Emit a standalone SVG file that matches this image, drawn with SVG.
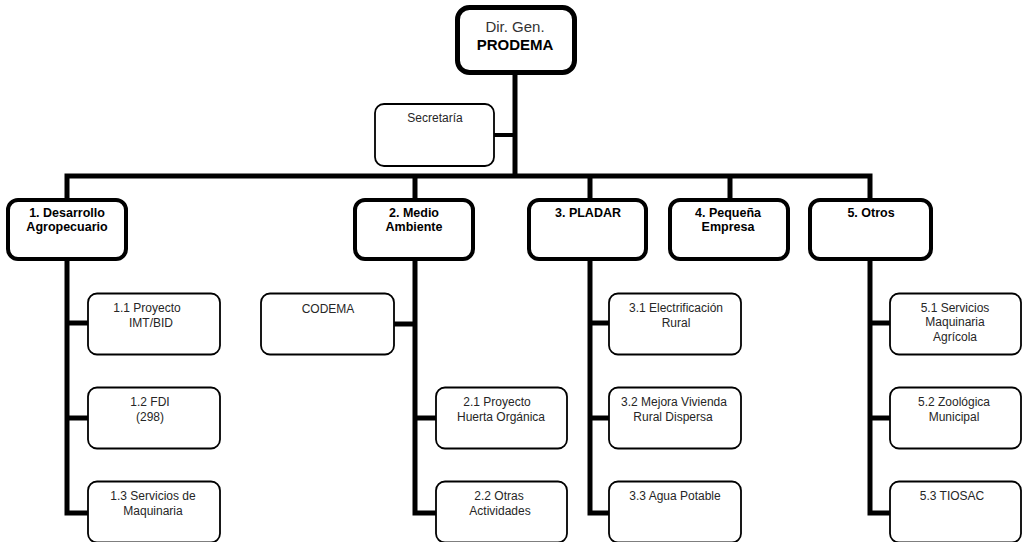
<svg xmlns="http://www.w3.org/2000/svg" width="1028" height="542" viewBox="0 0 1028 542">
<style>
.top{fill:#fff;stroke:#000;stroke-width:5}
.hd{fill:#fff;stroke:#000;stroke-width:4}
.sb{fill:#fff;stroke:#000;stroke-width:1.8}
.ln{fill:none;stroke:#000;stroke-width:5;stroke-linejoin:miter;stroke-linecap:butt}
.ln4{fill:none;stroke:#000;stroke-width:4}
text{font-family:"Liberation Sans",Arial,sans-serif;text-anchor:middle;fill:#262626}
.b{font-weight:bold;font-size:12.5px;fill:#000}
.r{font-size:12px}
.t{font-size:15px;fill:#333}
.tb{font-size:15px;font-weight:bold;fill:#000}
</style>
<rect x="0" y="0" width="1028" height="542" fill="#fff"/>
<g id="connectors">
<path class="ln" d="M515 72 V176"/>
<path class="ln4" d="M492 135 H515"/>
<path class="ln" d="M67 202 V176 H870 V202"/>
<path class="ln" d="M415 176 V202"/>
<path class="ln" d="M590 176 V202"/>
<path class="ln" d="M730 176 V202"/>
<path class="ln" d="M67 258 V513 H90"/>
<path class="ln" d="M67 323 H90"/>
<path class="ln" d="M67 418 H90"/>
<path class="ln" d="M415 258 V513 H438"/>
<path class="ln" d="M415 418 H438"/>
<path class="ln" d="M415 324 H392"/>
<path class="ln" d="M590 258 V513 H611"/>
<path class="ln" d="M590 323 H611"/>
<path class="ln" d="M590 418 H611"/>
<path class="ln" d="M870 258 V513 H892"/>
<path class="ln" d="M870 323 H892"/>
<path class="ln" d="M870 418 H892"/>
</g>
<g id="dir-gen">
<rect class="top" x="457.5" y="7.5" width="117" height="65" rx="12"/>
<text class="t" x="515" y="32">Dir. Gen.</text>
<text class="tb" x="515" y="49.5">PRODEMA</text>
</g>
<g id="secretaria">
<rect class="sb" x="375" y="104" width="119" height="62" rx="9"/>
<text class="r" x="435" y="122">Secretaría</text>
</g>
<g id="n1">
<rect class="hd" x="8" y="200" width="118" height="59" rx="10"/>
<text class="b" x="67" y="217">1. Desarrollo</text>
<text class="b" x="67" y="231">Agropecuario</text>
</g>
<g id="n2">
<rect class="hd" x="355" y="200" width="118" height="59" rx="10"/>
<text class="b" x="414" y="217">2. Medio</text>
<text class="b" x="414" y="231">Ambiente</text>
</g>
<g id="n3">
<rect class="hd" x="529" y="200" width="117" height="59" rx="10"/>
<text class="b" x="588" y="217">3. PLADAR</text>
</g>
<g id="n4">
<rect class="hd" x="670" y="200" width="118" height="59" rx="10"/>
<text class="b" x="728" y="217">4. Pequeña</text>
<text class="b" x="728" y="231">Empresa</text>
</g>
<g id="n5">
<rect class="hd" x="810" y="200" width="121" height="59" rx="10"/>
<text class="b" x="871" y="217">5. Otros</text>
</g>
<g id="n1-1">
<rect class="sb" x="88" y="293.5" width="132" height="61" rx="9"/>
<text class="r" x="147" y="311.5">1.1 Proyecto</text>
<text class="r" x="151" y="326.5">IMT/BID</text>
</g>
<g id="n1-2">
<rect class="sb" x="88" y="387.5" width="132" height="61" rx="9"/>
<text class="r" x="150" y="405.5">1.2 FDI</text>
<text class="r" x="150" y="420.5">(298)</text>
</g>
<g id="n1-3">
<rect class="sb" x="88" y="481.5" width="132" height="61" rx="9"/>
<text class="r" x="153" y="499.5">1.3 Servicios de</text>
<text class="r" x="153" y="514.5">Maquinaria</text>
</g>
<g id="codema">
<rect class="sb" x="261" y="293.5" width="133" height="61" rx="9"/>
<text class="r" x="328" y="312.5">CODEMA</text>
</g>
<g id="n2-1">
<rect class="sb" x="436" y="387.5" width="131" height="61" rx="9"/>
<text class="r" x="497" y="405.5">2.1 Proyecto</text>
<text class="r" x="501" y="420.5">Huerta Orgánica</text>
</g>
<g id="n2-2">
<rect class="sb" x="436" y="481.5" width="131" height="61" rx="9"/>
<text class="r" x="499" y="499.5">2.2 Otras</text>
<text class="r" x="500" y="514.5">Actividades</text>
</g>
<g id="n3-1">
<rect class="sb" x="609" y="293.5" width="132" height="61" rx="9"/>
<text class="r" x="676" y="311.5">3.1 Electrificación</text>
<text class="r" x="676" y="326.5">Rural</text>
</g>
<g id="n3-2">
<rect class="sb" x="609" y="387.5" width="132" height="61" rx="9"/>
<text class="r" x="674" y="405.5">3.2 Mejora Vivienda</text>
<text class="r" x="673" y="420.5">Rural Dispersa</text>
</g>
<g id="n3-3">
<rect class="sb" x="609" y="481.5" width="132" height="61" rx="9"/>
<text class="r" x="675" y="499.5">3.3 Agua Potable</text>
</g>
<g id="n5-1">
<rect class="sb" x="890" y="293.5" width="131" height="61" rx="9"/>
<text class="r" x="955" y="311.5">5.1 Servicios</text>
<text class="r" x="955" y="326">Maquinaria</text>
<text class="r" x="955" y="340.5">Agrícola</text>
</g>
<g id="n5-2">
<rect class="sb" x="890" y="387.5" width="131" height="61" rx="9"/>
<text class="r" x="954" y="405.5">5.2 Zoológica</text>
<text class="r" x="954" y="420.5">Municipal</text>
</g>
<g id="n5-3">
<rect class="sb" x="890" y="481.5" width="131" height="61" rx="9"/>
<text class="r" x="952" y="499.5">5.3 TIOSAC</text>
</g>
</svg>
